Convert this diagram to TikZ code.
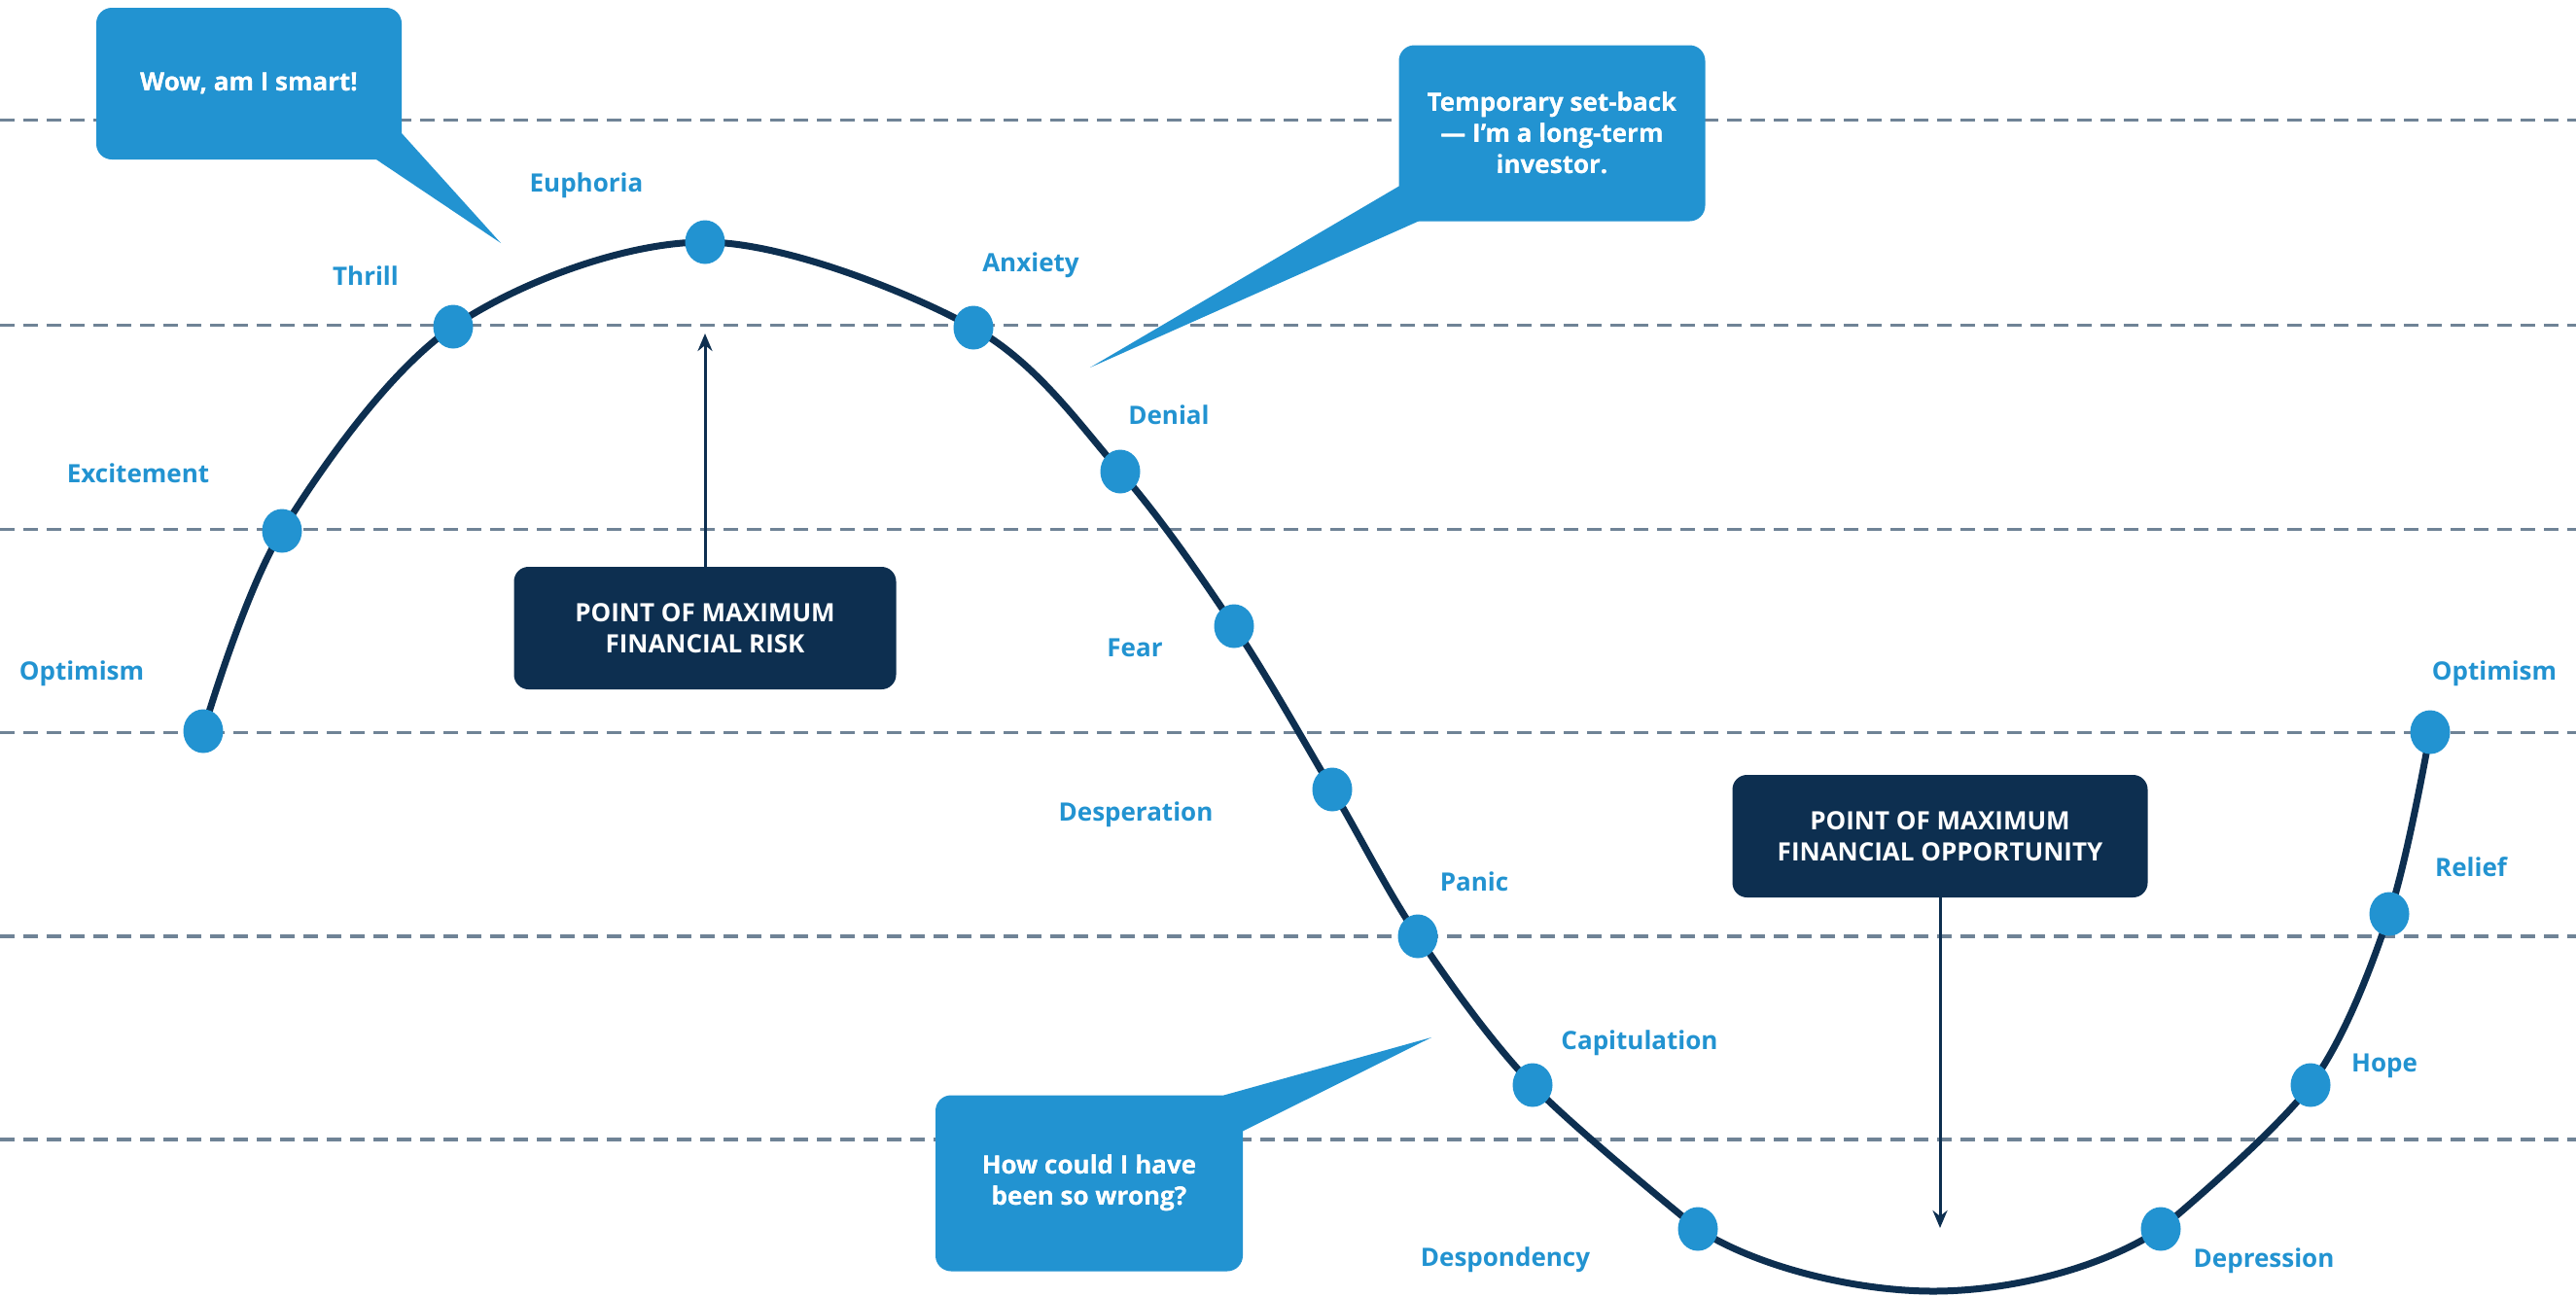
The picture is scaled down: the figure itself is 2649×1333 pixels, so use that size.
\documentclass[tikz,border=0pt]{standalone}
\usepackage{fontspec}
\setmainfont{Open Sans}
\usetikzlibrary{arrows.meta,shapes.geometric}
\definecolor{lblue}{HTML}{2293D1}
\definecolor{navy}{HTML}{0D2F50}
\definecolor{gridgrey}{HTML}{6F8396}
\begin{document}
\begin{tikzpicture}[x=1pt,y=-1pt,
  gridline/.style={draw=gridgrey, line width=3.5pt, dash pattern=on 15pt off 9pt},
  curveline/.style={draw=navy, line width=7pt},
  dot/.style={ellipse, fill=lblue, minimum width=41pt, minimum height=45pt, inner sep=0pt},
  lbl/.style={text=lblue, font=\fontsize{26}{31}\selectfont\bfseries, inner sep=0pt, text height=19pt, text depth=0pt},
  bubble/.style={fill=lblue, rounded corners=16pt, text=white, align=center, inner sep=0pt,
    font=\fontsize{26}{32}\selectfont\bfseries},
  darkbox/.style={fill=navy, rounded corners=15pt, text=white, align=center, inner sep=0pt,
    font=\fontsize{26}{32}\selectfont\bfseries},
  arr/.style={draw=navy, line width=3pt, -{Stealth[length=18pt,width=15pt]}}
]
\useasboundingbox (0,0) rectangle (2649,1333);
\fill[white] (0,0) rectangle (2649,1333);
% dashed guide lines
\foreach \yy in {123.5,334.5,544.5,753.5,963,1172}
  \draw[gridline] (0,\yy) -- (2649,\yy);
% curve points
\coordinate (p1) at (209,752);
\coordinate (p2) at (290,546);
\coordinate (p3) at (466,336);
\coordinate (p4) at (725,249);
\coordinate (p5) at (1001,337);
\coordinate (p6) at (1152,485);
\coordinate (p7) at (1269,644);
\coordinate (p8) at (1370,812);
\coordinate (p9) at (1458,963);
\coordinate (p10) at (1576,1116);
\coordinate (p11) at (1746,1264);
\coordinate (pb) at (1988,1328);
\coordinate (p12) at (2222,1264);
\coordinate (p13) at (2376,1116);
\coordinate (p14) at (2457,940);
\coordinate (p15) at (2499,753);
\draw[curveline] plot[smooth, tension=0.55] coordinates {(p1) (p2) (p3) (p4) (p5) (p6) (p7) (p8) (p9) (p10) (p11)};
\draw[curveline] (p11) .. controls (1806,1303) and (1908,1328) .. (pb)
  .. controls (2068,1328) and (2162,1304) .. (p12);
\draw[curveline] plot[smooth, tension=0.55] coordinates {(p12) (p13) (p14) (p15)};
% dots
\foreach \i in {1,...,15}
  \node[dot] (d\i) at (p\i) {};
% labels
\node[lbl] (l1) at (84,690) {Optimism};
\node[lbl] (l2) at (142,487) {Excitement};
\node[lbl] (l3) at (376,284) {Thrill};
\node[lbl] (l4) at (603,188) {Euphoria};
\node[lbl] (l5) at (1060,270) {Anxiety};
\node[lbl] (l6) at (1202,427) {Denial};
\node[lbl] (l7) at (1167,666) {Fear};
\node[lbl] (l8) at (1168,835) {Desperation};
\node[lbl] (l9) at (1516,907) {Panic};
\node[lbl] (l10) at (1686,1070) {Capitulation};
\node[lbl] (l11) at (1548,1293) {Despondency};
\node[lbl] (l12) at (2328,1294) {Depression};
\node[lbl] (l13) at (2452,1093) {Hope};
\node[lbl] (l14) at (2541,892) {Relief};
\node[lbl] (l15) at (2565,690) {Optimism};
% speech bubbles
\node[bubble, minimum width=314pt, minimum height=156pt] (b1) at (256,86) {Wow, am I smart!};
\coordinate (tip1) at (515,250);
\fill[lblue] ([xshift=-26pt]b1.south east) -- (tip1) -- ([yshift=27pt]b1.south east) -- (b1.center) -- cycle;
\node[bubble, minimum width=315pt, minimum height=181pt] (b2) at (1596,137) {Temporary set-back\\— I’m a long-term\\investor.};
\coordinate (tip2) at (1121,378);
\fill[lblue] ([yshift=36pt]b2.south west) -- (tip2) -- ([xshift=20pt]b2.south west) -- (b2.center) -- cycle;
\node[bubble, minimum width=316pt, minimum height=181pt] (b3) at (1120,1217) {How could I have\\been so wrong?};
\coordinate (tip3) at (1472,1067);
\fill[lblue] ([xshift=-19pt]b3.north east) -- (tip3) -- ([yshift=-37pt]b3.north east) -- (b3.center) -- cycle;
% redraw bubble texts on top of tails
\node[bubble, fill=none] at (b1.center) {Wow, am I smart!};
\node[bubble, fill=none] at (b2.center) {Temporary set-back\\— I’m a long-term\\investor.};
\node[bubble, fill=none] at (b3.center) {How could I have\\been so wrong?};
% dark boxes
\node[darkbox, minimum width=393pt, minimum height=126pt] (r1) at (725,646) {POINT OF MAXIMUM\\FINANCIAL RISK};
\node[darkbox, minimum width=427pt, minimum height=126pt] (r2) at (1995,860) {POINT OF MAXIMUM\\FINANCIAL OPPORTUNITY};
\coordinate (t1) at (725,343);
\coordinate (t2) at (1995,1263);
\draw[arr] (r1.north) -- (t1);
\draw[arr] (r2.south) -- (t2);
\end{tikzpicture}
\end{document}
